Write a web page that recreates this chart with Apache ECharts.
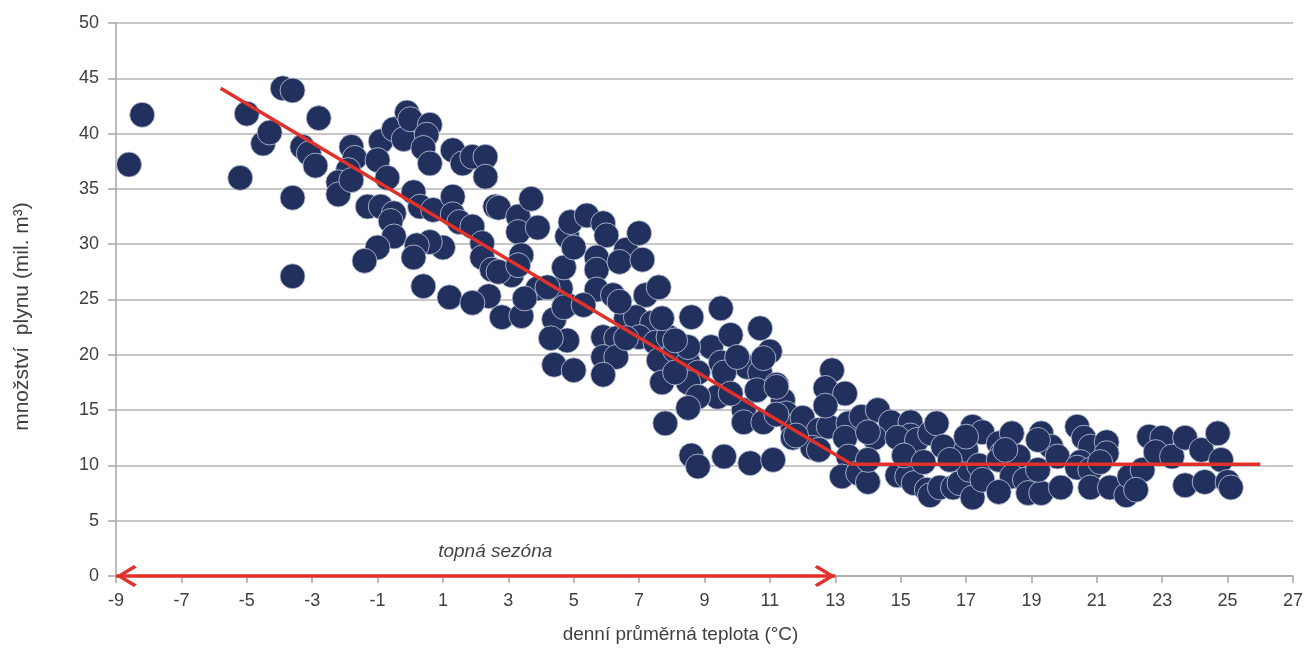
<!DOCTYPE html>
<html><head><meta charset="utf-8">
<script src="https://cdn.jsdelivr.net/npm/echarts@6/dist/echarts.min.js"></script>
<style>html,body{margin:0;padding:0;background:#fff}#c{width:1306px;height:653px}</style>
</head><body><div id="c"></div>
<script>
// daily mean temperature (°C)
const temperature = [
-8.6,-8.2,-5.2,-5.0,-4.5,-4.3,-3.9,-3.6,-3.6,-3.6,-3.3,-3.1,-2.9,-2.8,
-1.8,-1.7,-1.9,-2.2,-2.2,-1.8,-1.3,-0.9,-0.5,-0.6,-0.5,-1.0,-1.4,-0.9,-0.5,-0.2,-0.1,0.0,0.6,0.5,0.4,0.6,-1.0,-0.7,0.1,0.3,0.7,1.3,1.3,1.5,1.9,2.2,2.2,1.0,0.6,0.2,1.3,1.6,1.9,2.3,2.3,2.6,2.5,2.4,0.4,1.2,1.9,0.1,
2.7,3.3,3.3,3.7,3.9,3.4,3.1,3.9,2.7,2.8,3.4,4.4,4.8,4.6,4.7,4.8,5.0,4.9,3.3,3.5,4.2,4.7,5.4,5.9,6.0,5.7,5.7,5.7,6.2,6.6,6.4,7.0,7.1,7.2,7.6,5.3,4.8,4.4,4.3,5.0,5.9,6.3,5.9,6.3,5.9,6.6,6.9,7.4,7.0,7.5,7.9,7.6,8.1,8.5,7.7,8.6,9.5,9.2,9.5,9.8,10.7,11.0,10.3,10.7,11.2,11.4,11.5,11.7,10.2,10.2,10.8,9.7,9.4,8.5,8.8,8.5,8.8,8.5,7.8,8.6,8.8,9.6,10.4,11.1,6.4,6.6,7.7,8.1,8.1,9.6,9.8,10.0,10.6,10.8,11.2,11.2,11.7,12.0,12.5,12.8,12.3,12.9,12.7,13.3,12.7,13.4,13.3,13.4,13.2,11.8,12.5,
13.8,14.3,14.7,14.2,14.0,13.7,14.0,14.0,15.3,15.3,14.9,15.5,15.9,16.1,16.3,14.9,15.2,15.4,15.8,15.9,16.2,16.6,16.8,17.1,17.0,17.2,17.4,17.2,17.5,17.5,18.0,18.1,18.4,18.0,18.6,18.4,18.0,18.8,18.9,19.3,19.2,19.3,19.6,19.9,19.8,20.4,20.6,20.8,20.5,20.4,20.8,20.8,21.3,21.3,21.4,21.9,22.0,22.4,22.2,22.6,23.0,22.8,23.3,23.7,24.2,23.7,24.3,24.7,24.8,25.0,25.1,
15.1,15.7,16.5,18.2,19.2,21.1,17.0
];
// gas volume (mil. m3)
const gasVolume = [
37.2,41.7,36.0,41.8,39.1,40.1,44.1,43.9,34.2,27.1,38.8,38.2,37.1,41.4,
38.8,37.8,36.7,35.6,34.5,35.8,33.4,33.4,32.8,32.1,30.7,29.7,28.5,39.3,40.4,39.5,41.9,41.3,40.8,39.9,38.7,37.3,37.6,36.0,34.7,33.4,33.1,34.3,32.7,32.0,31.6,30.1,28.8,29.7,30.2,29.9,38.5,37.3,37.9,37.9,36.1,33.4,27.7,25.3,26.2,25.2,24.7,28.8,
33.3,32.5,31.1,34.1,31.5,29.0,27.2,26.0,27.5,23.4,23.5,23.2,24.5,26.0,27.9,30.7,29.7,32.0,28.1,25.1,26.1,24.3,32.6,31.9,30.8,28.8,27.7,25.9,25.4,29.5,28.4,31.0,28.6,25.4,26.1,24.5,21.3,19.1,21.5,18.6,21.6,21.5,19.8,19.8,18.2,23.3,23.4,22.9,21.6,21.1,21.6,19.5,20.4,19.3,17.5,23.4,24.2,20.7,19.3,21.8,22.4,20.3,18.9,18.4,17.3,15.9,14.7,13.5,15.0,13.9,13.9,16.5,16.2,20.7,18.4,17.5,16.2,15.2,13.8,10.9,9.9,10.8,10.2,10.5,24.8,21.5,23.3,21.3,18.4,18.4,16.5,19.8,16.8,19.7,17.1,14.6,12.5,14.3,13.2,13.5,11.6,18.6,17.0,16.5,15.4,13.8,12.5,10.8,9.0,12.7,11.4,
14.4,15.0,13.9,12.5,13.0,9.3,8.5,10.5,13.9,12.7,12.5,12.3,12.9,13.8,11.7,9.1,9.0,8.4,7.8,7.3,8.0,8.0,8.4,9.6,11.4,13.5,10.0,7.1,8.7,13.0,12.0,11.1,12.9,10.5,10.8,9.0,7.6,8.7,7.5,7.5,9.6,12.9,11.7,8.0,10.8,13.5,12.5,11.7,10.3,9.8,9.6,8.0,12.1,11.1,8.0,7.3,9.0,9.6,7.8,12.6,12.5,11.2,10.8,12.5,11.4,8.2,8.5,12.9,10.5,8.5,8.0,
10.9,10.3,10.5,11.4,12.3,10.3,12.6
];
// piecewise trend line
const trendX = [-5.8, 13.5, 26.0];
const trendY = [44.1, 10.1, 10.1];
// heating season arrow
const seasonX = [-9, 13];
const seasonLabel = 'topná sezóna';
const seasonLabelPos = [2.6, 2.2];

const points = temperature.map((t, i) => [t, gasVolume[i]]);
const trend = trendX.map((t, i) => [t, trendY[i]]);

const font = 'Liberation Sans, Arial, sans-serif';
const txt = '#404040';
// open chevron arrow head; padded square box so the tip sits at the line end
const chevron = 'path://M-21,-21 M21,21 M0,0 L11,18 L8.6,20.8 L0,6.2 L-8.6,20.8 L-11,18 Z';

const chart = echarts.init(document.getElementById('c'), null, {renderer: 'canvas'});
chart.setOption({
  animation: false,
  backgroundColor: '#ffffff',
  grid: {left: 116, right: 12, top: 23, bottom: 77, containLabel: false},
  xAxis: {
    type: 'value', min: -9, max: 27, interval: 2,
    name: 'denní průměrná teplota (°C)', nameLocation: 'middle', nameGap: 49,
    nameTextStyle: {fontFamily: font, fontSize: 19, color: txt, padding: [0, 48, 0, 0]},
    axisLine: {show: true, onZero: false, lineStyle: {color: '#a6a6a6', width: 1.5}},
    axisTick: {show: true, length: 7, lineStyle: {color: '#a6a6a6', width: 1.5}},
    axisLabel: {fontFamily: font, fontSize: 18, color: txt, margin: 16},
    splitLine: {show: false}
  },
  yAxis: {
    type: 'value', min: 0, max: 50, interval: 5,
    name: 'množství  plynu (mil. m³)', nameLocation: 'middle', nameGap: 83, nameRotate: 90,
    nameTextStyle: {fontFamily: font, fontSize: 21, color: txt, padding: [0, 34, 0, 0]},
    axisLine: {show: true, onZero: false, lineStyle: {color: '#a6a6a6', width: 1.5}},
    axisTick: {show: true, length: 8, lineStyle: {color: '#a6a6a6', width: 1.5}},
    axisLabel: {fontFamily: font, fontSize: 18, color: txt, margin: 17},
    splitLine: {show: true, lineStyle: {color: '#b4b4b4', width: 1.5}}
  },
  series: [
    {
      type: 'scatter', data: points, symbol: 'circle', symbolSize: 25,
      itemStyle: {color: '#21305c', borderColor: '#c5cbe0', borderWidth: 0.8, opacity: 1},
      z: 2
    },
    {
      type: 'line', data: trend, symbol: 'none',
      lineStyle: {color: '#e2312a', width: 3.5}, z: 5
    },
    {
      type: 'scatter', data: [seasonLabelPos], symbolSize: 0, z: 6,
      label: {show: true, position: 'inside', formatter: seasonLabel,
        fontFamily: font, fontSize: 19, fontStyle: 'italic', color: '#111'},
      markLine: {
        silent: true, symbol: [chevron, chevron], symbolSize: 42,
        label: {show: false},
        lineStyle: {color: '#e2312a', width: 3.5, type: 'solid'},
        data: [[{coord: [seasonX[0], 0]}, {coord: [seasonX[1], 0]}]]
      }
    }
  ]
});
</script></body></html>
